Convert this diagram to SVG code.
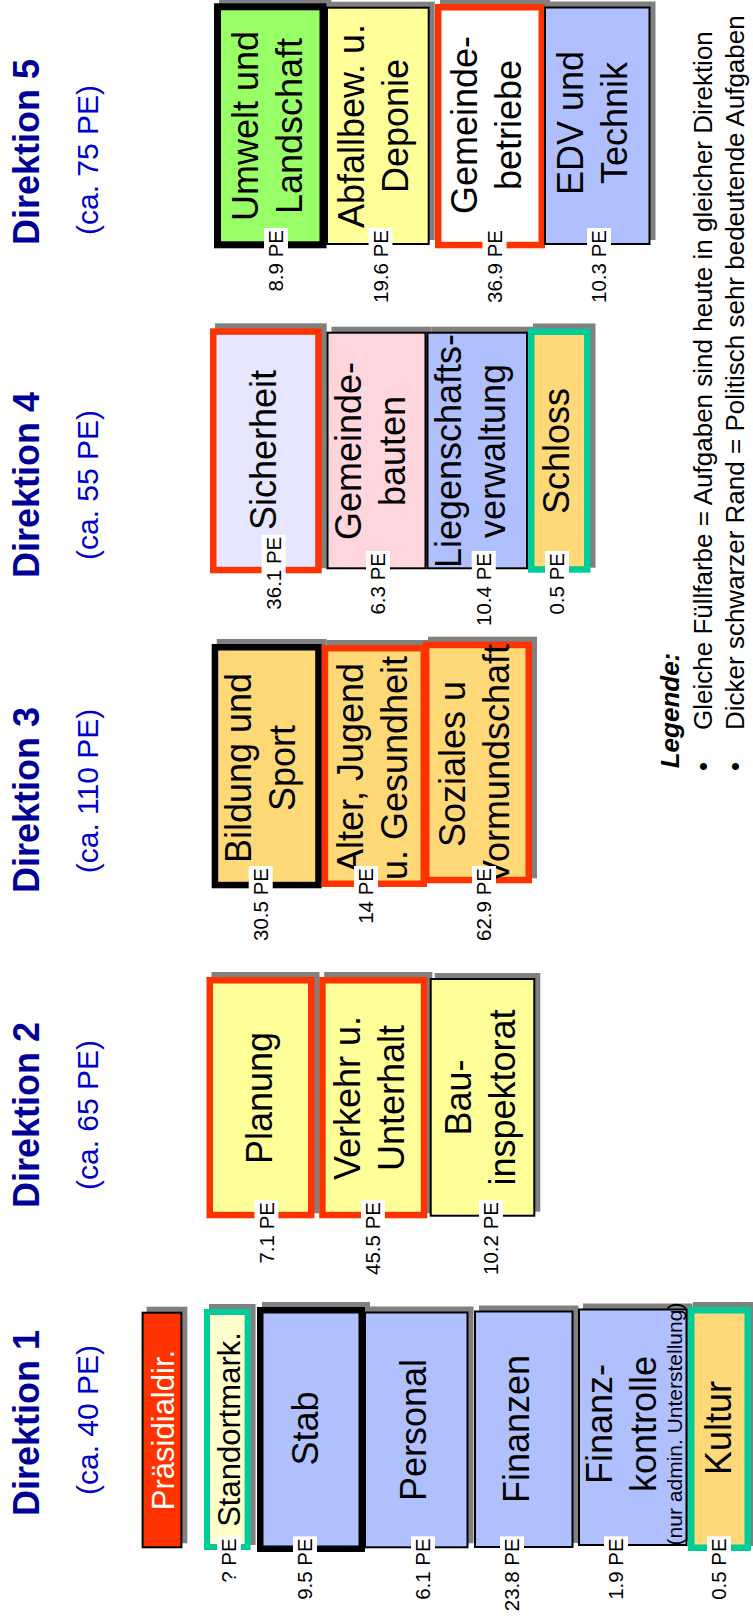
<svg xmlns="http://www.w3.org/2000/svg" width="753" height="1622" viewBox="0 0 753 1622">
  <style>
    text { font-family: "Liberation Sans", Arial, Helvetica, sans-serif; }
    .sh { fill: #808080; }
    .thin { stroke: #000; stroke-width: 2; }
    .blk { stroke: #000; stroke-width: 6.5; }
    .red { stroke: #FF3300; stroke-width: 6.5; }
    .teal { stroke: #00CC99; stroke-width: 6.5; }
    .fb { fill: #B0C0FF; }
    .fy { fill: #FFFF99; }
    .fo { fill: #FFD878; }
    .fg { fill: #99FF66; }
    .fp { fill: #FFD6DE; }
    .fl { fill: #E6E6FF; }
    .fw { fill: #FFFFFF; }
    .fc { fill: #FFFFCC; }
    .fr { fill: #FF3300; }
    .t { font-size: 36px; fill: #000; text-anchor: middle; }
    .pe { font-size: 20.5px; fill: #000; text-anchor: end; }
    .wbg { fill: #FFFFFF; }
    .h { font-size: 36px; font-weight: bold; fill: #000099; text-anchor: middle; }
    .sub { font-size: 30px; fill: #0000CC; text-anchor: middle; }
    .leg { font-size: 26px; fill: #000; }
  </style>

  <!-- column headings -->
  <g id="kopf-d1">
    <text class="h" transform="translate(38.5,1423) rotate(-90)">Direktion 1</text>
    <text class="sub" transform="translate(98,1420) rotate(-90)">(ca. 40 PE)</text>
  </g>
  <g id="kopf-d2">
    <text class="h" transform="translate(38.5,1115) rotate(-90)">Direktion 2</text>
    <text class="sub" transform="translate(98,1115) rotate(-90)">(ca. 65 PE)</text>
  </g>
  <g id="kopf-d3">
    <text class="h" transform="translate(38.5,800) rotate(-90)">Direktion 3</text>
    <text class="sub" transform="translate(98,791) rotate(-90)">(ca. 110 PE)</text>
  </g>
  <g id="kopf-d4">
    <text class="h" transform="translate(38.5,485) rotate(-90)">Direktion 4</text>
    <text class="sub" transform="translate(98,485) rotate(-90)">(ca. 55 PE)</text>
  </g>
  <g id="kopf-d5">
    <text class="h" transform="translate(38.5,152) rotate(-90)">Direktion 5</text>
    <text class="sub" transform="translate(98,160) rotate(-90)">(ca. 75 PE)</text>
  </g>

  <!-- Direktion 1 -->
  <g id="praesidialdir">
    <rect class="sh" x="146.6" y="1306.7" width="40.8" height="236.6"/>
    <rect class="fr thin" x="142.6" y="1312.7" width="38.8" height="234.6"/>
    <text class="t" style="font-size:31px;fill:#fff" transform="translate(173.5,1430) rotate(-90)">Präsidialdir.</text>
  </g>
  <g id="standortmark">
    <rect class="sh" x="209" y="1304" width="46.6" height="241"/>
    <rect class="fc teal" x="207" y="1312" width="40.6" height="235" style="stroke-width:6"/>
    <text class="t" style="font-size:31px" transform="translate(240,1429.5) rotate(-90)">Standortmark.</text>
    <rect class="wbg" x="217" y="1536.3" width="24" height="48.4"/>
    <text class="pe" transform="translate(236.3,1538.3) rotate(-90)">? PE</text>
  </g>
  <g id="stab">
    <rect class="sh" x="262" y="1302" width="108" height="245"/>
    <rect class="fb blk" x="260.25" y="1310.25" width="101.5" height="238.5"/>
    <text class="t" transform="translate(318,1428.5) rotate(-90)">Stab</text>
    <rect class="wbg" x="293" y="1536.3" width="24" height="65.5"/>
    <text class="pe" transform="translate(312.3,1538.3) rotate(-90)">9.5 PE</text>
  </g>
  <g id="personal">
    <rect class="sh" x="369" y="1306.5" width="104.5" height="236.8"/>
    <rect class="fb thin" x="365" y="1312.5" width="102.5" height="234.8"/>
    <text class="t" transform="translate(426,1430) rotate(-90)">Personal</text>
    <rect class="wbg" x="411" y="1536.3" width="24" height="65.5"/>
    <text class="pe" transform="translate(430.3,1538.3) rotate(-90)">6.1 PE</text>
  </g>
  <g id="finanzen">
    <rect class="sh" x="479" y="1305.5" width="99.5" height="237.5"/>
    <rect class="fb thin" x="475" y="1311.5" width="97.5" height="235.5"/>
    <text class="t" transform="translate(529,1429) rotate(-90)">Finanzen</text>
    <rect class="wbg" x="500" y="1536.3" width="24" height="76.9"/>
    <text class="pe" transform="translate(519.3,1538.3) rotate(-90)">23.8 PE</text>
  </g>
  <g id="finanzkontrolle">
    <rect class="sh" x="583" y="1303.5" width="109.5" height="237.5"/>
    <rect class="fb thin" x="579" y="1309.5" width="107.5" height="235.5"/>
    <text class="t" transform="translate(612,1424) rotate(-90)"><tspan x="0">Finanz-</tspan><tspan x="0" dy="44">kontrolle</tspan></text>
    <text class="t" style="font-size:21px" transform="translate(682,1424) rotate(-90)">(nur admin. Unterstellung)</text>
    <rect class="wbg" x="604" y="1536.3" width="24" height="65.5"/>
    <text class="pe" transform="translate(623.3,1538.3) rotate(-90)">1.9 PE</text>
  </g>
  <g id="kultur">
    <rect class="sh" x="693" y="1302" width="63" height="244"/>
    <rect class="fo teal" x="691.25" y="1310.25" width="56.5" height="237.5"/>
    <text class="t" transform="translate(730.5,1428) rotate(-90)">Kultur</text>
    <rect class="wbg" x="707" y="1536.3" width="24" height="65.5"/>
    <text class="pe" transform="translate(726.3,1538.3) rotate(-90)">0.5 PE</text>
  </g>

  <!-- Direktion 2 -->
  <g id="planung">
    <rect class="sh" x="211.5" y="972" width="108" height="241.3"/>
    <rect class="fy red" x="209.75" y="980.25" width="101.5" height="234.8"/>
    <text class="t" transform="translate(272,1098) rotate(-90)">Planung</text>
    <rect class="wbg" x="254.4" y="1200" width="24" height="65.5"/>
    <text class="pe" transform="translate(273.7,1202) rotate(-90)">7.1 PE</text>
  </g>
  <g id="verkehr">
    <rect class="sh" x="324.2" y="972" width="108.1" height="241.3"/>
    <rect class="fy red" x="322.45" y="980.25" width="101.6" height="234.8"/>
    <text class="t" transform="translate(360,1098) rotate(-90)"><tspan x="0">Verkehr u.</tspan><tspan x="0" dy="44">Unterhalt</tspan></text>
    <rect class="wbg" x="361" y="1200" width="24" height="76.9"/>
    <text class="pe" transform="translate(380.3,1202) rotate(-90)">45.5 PE</text>
  </g>
  <g id="bauinspektorat">
    <rect class="sh" x="434.7" y="973" width="105.6" height="238.7"/>
    <rect class="fy thin" x="430.7" y="979" width="103.6" height="236.7"/>
    <text class="t" transform="translate(470.5,1097.5) rotate(-90)"><tspan x="0">Bau-</tspan><tspan x="0" dy="44">inspektorat</tspan></text>
    <rect class="wbg" x="479" y="1200" width="24" height="76.9"/>
    <text class="pe" transform="translate(498.3,1202) rotate(-90)">10.2 PE</text>
  </g>

  <!-- Direktion 3 -->
  <g id="bildung">
    <rect class="sh" x="216.7" y="639" width="110" height="244.3"/>
    <rect class="fo blk" x="214.95" y="647.25" width="103.5" height="237.8"/>
    <text class="t" transform="translate(251,768) rotate(-90)"><tspan x="0">Bildung und</tspan><tspan x="0" dy="44">Sport</tspan></text>
    <rect class="wbg" x="248.7" y="866" width="24" height="76.9"/>
    <text class="pe" transform="translate(268,868) rotate(-90)">30.5 PE</text>
  </g>
  <g id="alter">
    <rect class="sh" x="326.7" y="640" width="105.3" height="242"/>
    <rect class="fo red" x="324.95" y="648.25" width="98.8" height="235.5"/>
    <text class="t" transform="translate(362.75,768) rotate(-90)"><tspan x="0">Alter, Jugend</tspan><tspan x="0" dy="44">u. Gesundheit</tspan></text>
    <rect class="wbg" x="354" y="866" width="24" height="59.8"/>
    <text class="pe" transform="translate(373.3,868) rotate(-90)">14 PE</text>
  </g>
  <g id="soziales">
    <rect class="sh" x="428" y="636.7" width="109" height="241.6"/>
    <rect class="fo red" x="426.25" y="644.95" width="102.5" height="235.1"/>
    <text class="t" transform="translate(465,764) rotate(-90)"><tspan x="0">Soziales u</tspan><tspan x="0" dy="44">Vormundschaft</tspan></text>
    <rect class="wbg" x="472" y="866" width="24" height="76.9"/>
    <text class="pe" transform="translate(491.3,868) rotate(-90)">62.9 PE</text>
  </g>

  <!-- Direktion 4 -->
  <g id="sicherheit">
    <rect class="sh" x="215" y="323.3" width="111.7" height="245"/>
    <rect class="fl red" x="213.25" y="331.55" width="105.2" height="238.5"/>
    <text class="t" transform="translate(276,450) rotate(-90)">Sicherheit</text>
    <rect class="wbg" x="261.6" y="534.7" width="24" height="76.9"/>
    <text class="pe" transform="translate(280.9,536.7) rotate(-90)">36.1 PE</text>
  </g>
  <g id="gemeindebauten">
    <rect class="sh" x="331.5" y="326.7" width="100" height="237.6"/>
    <rect class="fp thin" x="327.5" y="332.7" width="98" height="235.6"/>
    <text class="t" transform="translate(361,451) rotate(-90)"><tspan x="0">Gemeinde-</tspan><tspan x="0" dy="44">bauten</tspan></text>
    <rect class="wbg" x="366" y="551" width="24" height="65.5"/>
    <text class="pe" transform="translate(385.3,553) rotate(-90)">6.3 PE</text>
  </g>
  <g id="liegenschaften">
    <rect class="sh" x="431.5" y="326.7" width="101.5" height="237.6"/>
    <rect class="fb thin" x="427.5" y="332.7" width="99.5" height="235.6"/>
    <text class="t" transform="translate(460.75,451) rotate(-90)"><tspan x="0">Liegenschafts-</tspan><tspan x="0" dy="44">verwaltung</tspan></text>
    <rect class="wbg" x="471.8" y="551" width="24" height="76.9"/>
    <text class="pe" transform="translate(491.1,553) rotate(-90)">10.4 PE</text>
  </g>
  <g id="schloss">
    <rect class="sh" x="533" y="323.5" width="62.5" height="244.2"/>
    <rect class="fo teal" x="531.25" y="331.75" width="56" height="237.7"/>
    <text class="t" transform="translate(569,451) rotate(-90)">Schloss</text>
    <rect class="wbg" x="545" y="551" width="24" height="65.5"/>
    <text class="pe" transform="translate(564.3,553) rotate(-90)">0.5 PE</text>
  </g>

  <!-- Direktion 5 -->
  <g id="umwelt">
    <rect class="sh" x="219" y="-1.7" width="112.5" height="245"/>
    <rect class="fg blk" x="217.5" y="6.8" width="105.5" height="238" style="stroke-width:7"/>
    <text class="t" transform="translate(257.5,126) rotate(-90)"><tspan x="0">Umwelt und</tspan><tspan x="0" dy="44">Landschaft</tspan></text>
    <rect class="wbg" x="264" y="228" width="24" height="65.5"/>
    <text class="pe" transform="translate(283.3,230) rotate(-90)">8.9 PE</text>
  </g>
  <g id="abfall">
    <rect class="sh" x="331" y="1.7" width="103.7" height="238.3"/>
    <rect class="fy thin" x="327" y="7.7" width="101.7" height="236.3"/>
    <text class="t" transform="translate(363.5,126) rotate(-90)"><tspan x="0">Abfallbew. u.</tspan><tspan x="0" dy="44">Deponie</tspan></text>
    <rect class="wbg" x="368.5" y="228" width="24" height="76.9"/>
    <text class="pe" transform="translate(387.8,230) rotate(-90)">19.6 PE</text>
  </g>
  <g id="gemeindebetriebe">
    <rect class="sh" x="440" y="-1" width="110" height="244.3"/>
    <rect class="fw red" x="438.25" y="7.25" width="103.5" height="237.8"/>
    <text class="t" transform="translate(476.5,125) rotate(-90)"><tspan x="0">Gemeinde-</tspan><tspan x="0" dy="44">betriebe</tspan></text>
    <rect class="wbg" x="482.5" y="228" width="24" height="76.9"/>
    <text class="pe" transform="translate(501.8,230) rotate(-90)">36.9 PE</text>
  </g>
  <g id="edv">
    <rect class="sh" x="549" y="1.5" width="106.5" height="238.5"/>
    <rect class="fb thin" x="545" y="7.5" width="104.5" height="236.5"/>
    <text class="t" transform="translate(583,123) rotate(-90)"><tspan x="0">EDV und</tspan><tspan x="0" dy="44">Technik</tspan></text>
    <rect class="wbg" x="587" y="228" width="24" height="76.9"/>
    <text class="pe" transform="translate(606.3,230) rotate(-90)">10.3 PE</text>
  </g>

  <!-- legend -->
  <g id="legende">
    <text class="leg" style="font-weight:bold;font-style:italic" transform="translate(679,768.3) rotate(-90)">Legende:</text>
    <text class="leg" transform="translate(711.5,771) rotate(-90)">•</text>
    <text class="leg" transform="translate(711.5,730) rotate(-90)">Gleiche Füllfarbe = Aufgaben sind heute in gleicher Direktion</text>
    <text class="leg" transform="translate(743.5,771) rotate(-90)">•</text>
    <text class="leg" transform="translate(743.5,730) rotate(-90)">Dicker schwarzer Rand = Politisch sehr bedeutende Aufgaben</text>
  </g>
</svg>
